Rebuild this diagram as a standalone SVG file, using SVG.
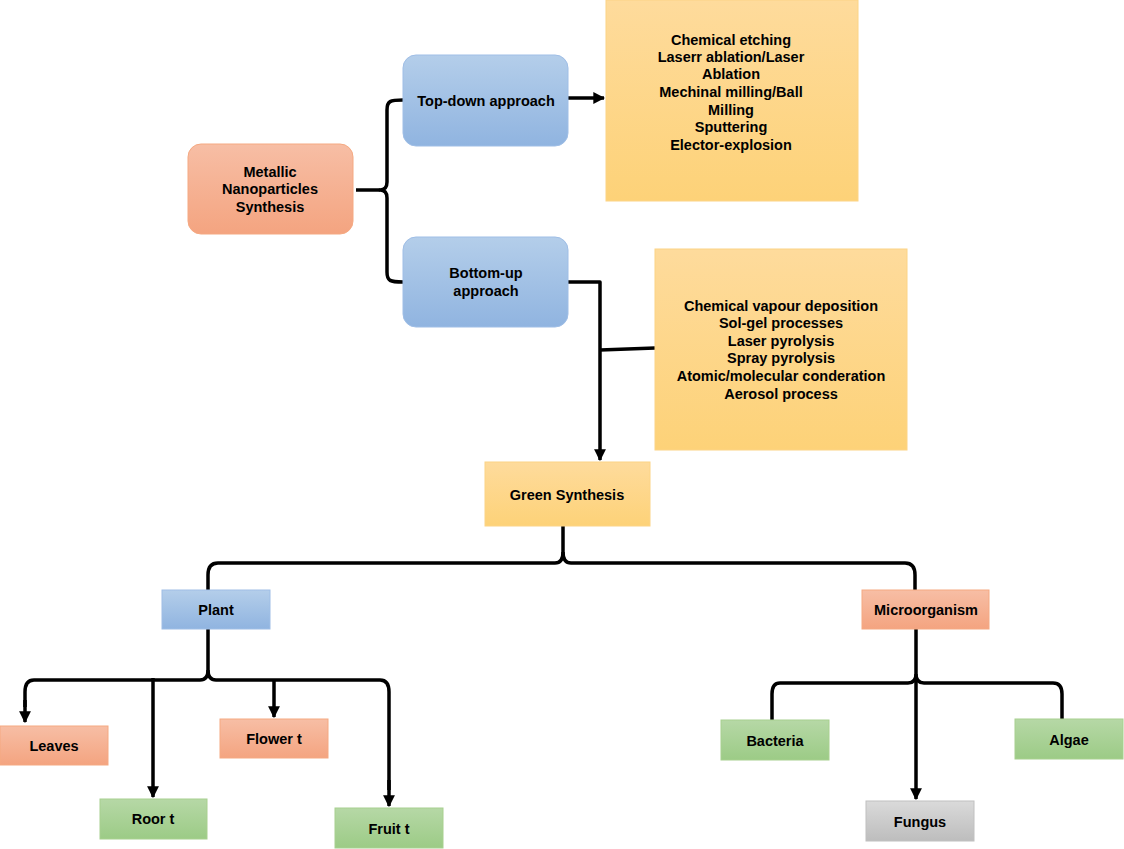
<svg xmlns="http://www.w3.org/2000/svg" width="1124" height="849" viewBox="0 0 1124 849">
<defs>
<linearGradient id="gSal" x1="0" y1="0" x2="0" y2="1"><stop offset="0" stop-color="#f7bea5"/><stop offset="1" stop-color="#f4a480"/></linearGradient>
<linearGradient id="gBlu" x1="0" y1="0" x2="0" y2="1"><stop offset="0" stop-color="#b4ceea"/><stop offset="1" stop-color="#90b4e0"/></linearGradient>
<linearGradient id="gYel" x1="0" y1="0" x2="0" y2="1"><stop offset="0" stop-color="#fedb9c"/><stop offset="1" stop-color="#fdd278"/></linearGradient>
<linearGradient id="gGrn" x1="0" y1="0" x2="0" y2="1"><stop offset="0" stop-color="#b6d8a6"/><stop offset="1" stop-color="#9ccb86"/></linearGradient>
<linearGradient id="gGry" x1="0" y1="0" x2="0" y2="1"><stop offset="0" stop-color="#dadada"/><stop offset="1" stop-color="#bdbdbd"/></linearGradient>
<marker id="arr" viewBox="0 0 10 10" refX="9" refY="5" markerWidth="3.4" markerHeight="3.4" markerUnits="strokeWidth" orient="auto"><path d="M0,0 L10,5 L0,10 z" fill="#000"/></marker>
</defs>
<style>
text{font-family:"Liberation Sans",Arial,sans-serif;font-weight:bold;font-size:14.5px;fill:#000;text-anchor:middle}
.sal{fill:url(#gSal);stroke:#f5a982;stroke-width:1}
.blu{fill:url(#gBlu);stroke:#9fbee6;stroke-width:1}
.yel{fill:url(#gYel);stroke:#fcd486;stroke-width:1}
.grn{fill:url(#gGrn);stroke:#a8d08f;stroke-width:1}
.gry{fill:url(#gGry);stroke:#c0c0c0;stroke-width:1}
.c{fill:none;stroke:#000;stroke-width:3.5;stroke-linejoin:round}
.a{marker-end:url(#arr)}
</style>
<rect width="1124" height="849" fill="#fff"/>

<g id="connectors">
<path class="c" d="M356,190 L380,190"/>
<path class="c" d="M403,100 C390,100 387,101 387,110 L387,182 Q387,190 380,190 Q387,190 387,198 L387,272 C387,281 390,282 403,282"/>
<path class="c a" d="M568,98 L604,98"/>
<path class="c a" d="M568,282 L600,282 L600,460"/>
<path class="c" d="M600,350 L655,348"/>
<path class="c" d="M563,526 L563,552 Q563,563 555,563 L218,563 Q208,563 208,575 L208,590"/>
<path class="c" d="M563,552 Q563,563 571,563 L905,563 Q915,563 915,575 L915,590"/>
<path class="c" d="M208,629 L208,670 Q208,680 200,680 L34,680 Q25,680 25,692 L25,707"/>
<path class="c a" d="M25,700 L25,722"/>
<path class="c" d="M208,670 Q208,680 216,680 L380,680 Q389,680 389,692 L389,790"/>
<path class="c a" d="M389,780 L389,806"/>
<path class="c a" d="M153,678 L153,797"/>
<path class="c a" d="M274,680 L274,717"/>
<path class="c" d="M916,629 L916,674 Q916,683 908,683 L780,683 Q772,683 772,694 L772,720"/>
<path class="c" d="M916,674 Q916,683 924,683 L1053,683 Q1062,683 1062,694 L1062,719"/>
<path class="c a" d="M916,678 L916,799"/>
</g>

<g id="metallic"><rect class="sal" x="188" y="144" width="165" height="90" rx="13"/><text x="270" y="177">Metallic</text><text x="270" y="194">Nanoparticles</text><text x="270" y="212">Synthesis</text></g>
<g id="topdown"><rect class="blu" x="403" y="55" width="165" height="91" rx="13"/><text x="486" y="106">Top-down approach</text></g>
<g id="bottomup"><rect class="blu" x="403" y="237" width="165" height="90" rx="13"/><text x="486" y="278">Bottom-up</text><text x="486" y="296">approach</text></g>
<g id="topdown-methods"><rect class="yel" x="606" y="0" width="252" height="201"/>
<text x="731" y="45">Chemical etching</text><text x="731" y="62">Laserr ablation/Laser</text><text x="731" y="79">Ablation</text><text x="731" y="97">Mechinal milling/Ball</text><text x="731" y="115">Milling</text><text x="731" y="132">Sputtering</text><text x="731" y="150">Elector-explosion</text></g>
<g id="bottomup-methods"><rect class="yel" x="655" y="249" width="252" height="201"/>
<text x="781" y="311">Chemical vapour deposition</text><text x="781" y="328">Sol-gel processes</text><text x="781" y="346">Laser pyrolysis</text><text x="781" y="363">Spray pyrolysis</text><text x="781" y="381">Atomic/molecular conderation</text><text x="781" y="399">Aerosol process</text></g>
<g id="green"><rect class="yel" x="485" y="462" width="165" height="64"/><text x="567" y="500">Green Synthesis</text></g>
<g id="plant"><rect class="blu" x="162" y="590" width="108" height="39"/><text x="216" y="615">Plant</text></g>
<g id="micro"><rect class="sal" x="862" y="590" width="127" height="39"/><text x="926" y="615">Microorganism</text></g>
<g id="leaves"><rect class="sal" x="0" y="726" width="108" height="39"/><text x="54" y="751">Leaves</text></g>
<g id="root"><rect class="grn" x="100" y="799" width="107" height="40"/><text x="153" y="824">Roor t</text></g>
<g id="flower"><rect class="sal" x="220" y="719" width="108" height="39"/><text x="274" y="744">Flower t</text></g>
<g id="fruit"><rect class="grn" x="335" y="808" width="108" height="40"/><text x="389" y="834">Fruit t</text></g>
<g id="bacteria"><rect class="grn" x="721" y="720" width="108" height="40"/><text x="775" y="746">Bacteria</text></g>
<g id="algae"><rect class="grn" x="1015" y="719" width="108" height="40"/><text x="1069" y="745">Algae</text></g>
<g id="fungus"><rect class="gry" x="866" y="801" width="108" height="40"/><text x="920" y="827">Fungus</text></g>
</svg>
